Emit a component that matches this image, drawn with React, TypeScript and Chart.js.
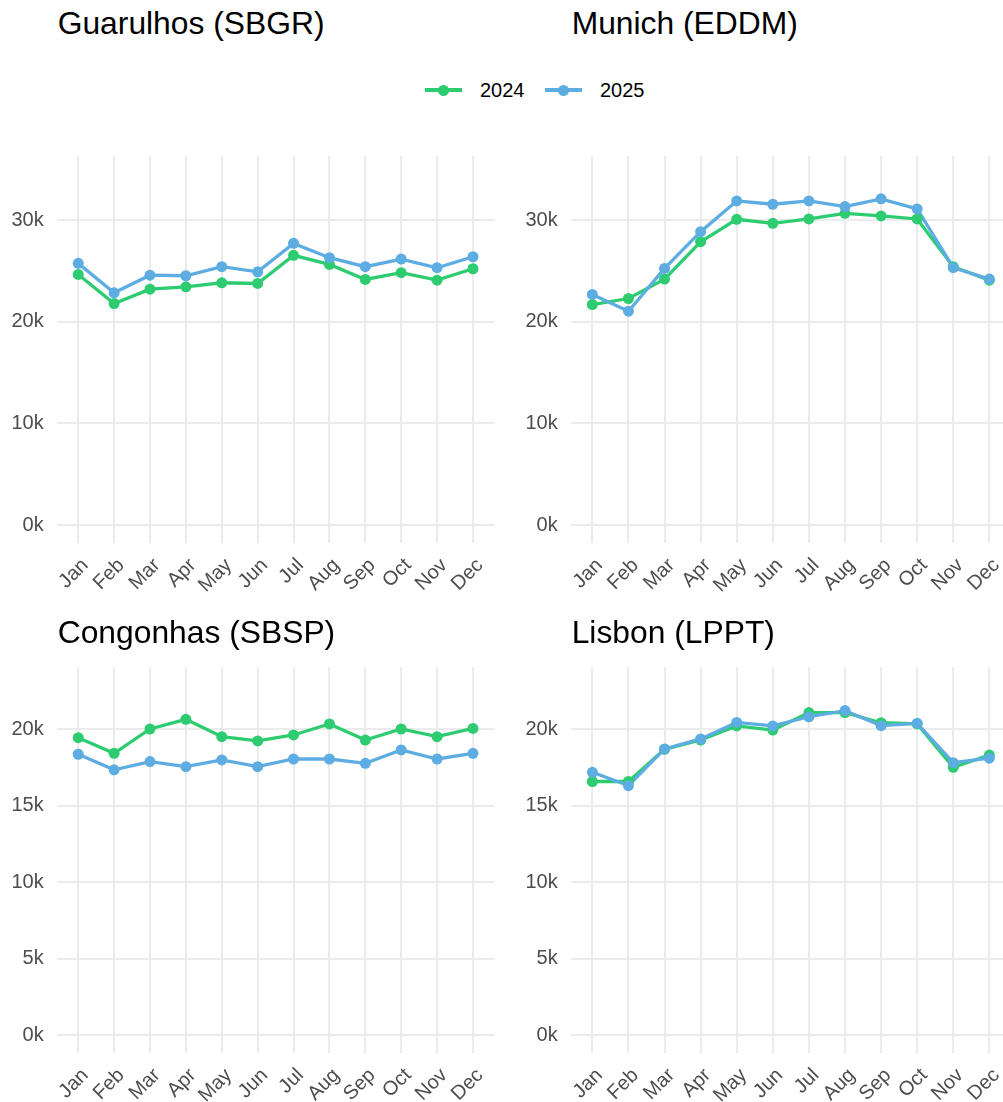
import React, { useEffect, useRef } from "react";
import { Chart, registerables } from "chart.js";

Chart.register(...registerables);

const months = ["Jan", "Feb", "Mar", "Apr", "May", "Jun", "Jul", "Aug", "Sep", "Oct", "Nov", "Dec"];
const seriesLabels = ["2024", "2025"];

const guarulhos2024 = [24670, 21810, 23220, 23450, 23850, 23780, 26550, 25660, 24180, 24840, 24110, 25230];
const guarulhos2025 = [25760, 22860, 24600, 24540, 25430, 24930, 27730, 26320, 25430, 26180, 25330, 26410];
const munich2024 = [21710, 22300, 24210, 27890, 30100, 29700, 30130, 30690, 30430, 30130, 25430, 24110];
const munich2025 = [22700, 21050, 25260, 28880, 31910, 31580, 31910, 31350, 32110, 31120, 25330, 24210];
const congonhas2024 = [19430, 18410, 20000, 20630, 19500, 19220, 19610, 20330, 19280, 20000, 19500, 20040];
const congonhas2025 = [18350, 17330, 17870, 17540, 17980, 17540, 18040, 18040, 17760, 18630, 18040, 18410];
const lisbon2024 = [16570, 16570, 18670, 19280, 20200, 19930, 21070, 21070, 20410, 20330, 17500, 18300];
const lisbon2025 = [17170, 16300, 18700, 19350, 20430, 20200, 20800, 21200, 20220, 20370, 17800, 18090];

const topTicks = [0, 10000, 20000, 30000];
const bottomTicks = [0, 5000, 10000, 15000, 20000];

const GREEN = "#2ECC71";
const BLUE = "#5DADE2";
const GRID = "#EBEBEB";
const AXIS_TEXT = "#4D4D4D";
const FONT = "'Liberation Sans', Arial, Helvetica, sans-serif";

type Box = { left: number; top: number; width: number; height: number };
type Area = { left: number; top: number; right: number; bottom: number };

type PanelProps = {
  title: string;
  d2024: number[];
  d2025: number[];
  ticks: number[];
  yMin: number;
  yMax: number;
  box: Box;
  area: Area;
  titleTop: number;
};

function Panel({ title, d2024, d2025, ticks, yMin, yMax, box, area, titleTop }: PanelProps) {
  const ref = useRef<HTMLCanvasElement | null>(null);

  useEffect(() => {
    if (!ref.current) return;
    const yW = area.left - box.left;
    const padTop = area.top - box.top;
    const padRight = box.left + box.width - area.right;
    const xH = box.top + box.height - area.bottom;
    const pts = (arr: number[]) => arr.map((y, i) => ({ x: i, y }));

    const chart = new Chart(ref.current, {
      type: "line",
      data: {
        datasets: [
          {
            label: seriesLabels[0],
            data: pts(d2024),
            borderColor: GREEN,
            backgroundColor: GREEN,
            borderWidth: 3.3,
            pointRadius: 0,
            tension: 0,
            fill: false,
            order: 3,
          },
          {
            label: seriesLabels[1],
            data: pts(d2025),
            borderColor: BLUE,
            backgroundColor: BLUE,
            borderWidth: 3.3,
            pointRadius: 0,
            tension: 0,
            fill: false,
            order: 2,
          },
          {
            label: seriesLabels[0] + " points",
            data: pts(d2024),
            showLine: false,
            pointRadius: 5.5,
            pointBorderWidth: 0,
            pointBackgroundColor: GREEN,
            borderColor: GREEN,
            order: 1,
          },
          {
            label: seriesLabels[1] + " points",
            data: pts(d2025),
            showLine: false,
            pointRadius: 5.5,
            pointBorderWidth: 0,
            pointBackgroundColor: BLUE,
            borderColor: BLUE,
            order: 0,
          },
        ],
      },
      options: {
        responsive: false,
        animation: false,
        devicePixelRatio: 1,
        layout: { padding: { top: padTop, right: padRight, left: 0, bottom: 0 } },
        plugins: {
          legend: { display: false },
          tooltip: { enabled: false },
          title: { display: false },
        },
        scales: {
          x: {
            type: "linear",
            min: -0.6,
            max: 11.6,
            afterBuildTicks: (s: any) => {
              s.ticks = months.map((_, i) => ({ value: i }));
            },
            afterFit: (s: any) => {
              s.height = xH;
              s.paddingLeft = 0;
              s.paddingRight = 0;
              s.paddingTop = 0;
              s.paddingBottom = 0;
            },
            grid: { color: GRID, lineWidth: 2, drawTicks: false },
            border: { display: false },
            ticks: {
              autoSkip: false,
              minRotation: 45,
              maxRotation: 45,
              padding: 11,
              labelOffset: 7,
              color: AXIS_TEXT,
              font: { family: FONT, size: 20 },
              callback: (_v: any, i: number) => months[i],
            },
          },
          y: {
            type: "linear",
            min: yMin,
            max: yMax,
            afterBuildTicks: (s: any) => {
              s.ticks = ticks.map((v) => ({ value: v }));
            },
            afterFit: (s: any) => {
              s.width = yW;
              s.paddingLeft = 0;
              s.paddingRight = 0;
              s.paddingTop = 0;
              s.paddingBottom = 0;
            },
            grid: { color: GRID, lineWidth: 2, drawTicks: false },
            border: { display: false },
            ticks: {
              padding: 13,
              color: AXIS_TEXT,
              font: { family: FONT, size: 20 },
              callback: (v: any) => `${Number(v) / 1000}k`,
            },
          },
        },
      },
    });
    return () => chart.destroy();
  }, []);

  return (
    <>
      <div
        style={{
          position: "absolute",
          left: area.left + 1,
          top: titleTop,
          fontFamily: FONT,
          fontSize: 31.8,
          lineHeight: "31.8px",
          color: "#000",
          whiteSpace: "nowrap",
        }}
      >
        {title}
      </div>
      <canvas
        ref={ref}
        width={box.width}
        height={box.height}
        style={{ position: "absolute", left: box.left, top: box.top, width: box.width, height: box.height }}
      />
    </>
  );
}

function LegendItem({ color, label, lineLeft, textLeft }: { color: string; label: string; lineLeft: number; textLeft: number }) {
  return (
    <>
      <div style={{ position: "absolute", left: lineLeft, top: 88.3, width: 37, height: 3.4, background: color }} />
      <div
        style={{
          position: "absolute",
          left: lineLeft + 18.5 - 5.5,
          top: 90 - 5.5,
          width: 11,
          height: 11,
          borderRadius: "50%",
          background: color,
        }}
      />
      <div
        style={{
          position: "absolute",
          left: textLeft,
          top: 80.2,
          fontFamily: FONT,
          fontSize: 20,
          lineHeight: "20px",
          color: "#000",
        }}
      >
        {label}
      </div>
    </>
  );
}

export default function App() {
  const topYMin = -1740;
  const topYMax = 36330;
  const botYMin = -1145;
  const botYMax = 24030;
  return (
    <div
      style={{
        position: "fixed",
        left: 0,
        top: 0,
        width: 1003,
        height: 1102,
        overflow: "hidden",
        background: "#fff",
      }}
    >
      <LegendItem color={GREEN} label={seriesLabels[0]} lineLeft={425} textLeft={480} />
      <LegendItem color={BLUE} label={seriesLabels[1]} lineLeft={545} textLeft={600} />
      <Panel
        title="Guarulhos (SBGR)"
        d2024={guarulhos2024}
        d2025={guarulhos2025}
        ticks={topTicks}
        yMin={topYMin}
        yMax={topYMax}
        box={{ left: 0, top: 140, width: 500, height: 480 }}
        area={{ left: 56.7, top: 156, right: 496.6, bottom: 542.7 }}
        titleTop={8.1}
      />
      <Panel
        title="Munich (EDDM)"
        d2024={munich2024}
        d2025={munich2025}
        ticks={topTicks}
        yMin={topYMin}
        yMax={topYMax}
        box={{ left: 500, top: 140, width: 530, height: 480 }}
        area={{ left: 570.7, top: 156, right: 1011, bottom: 542.7 }}
        titleTop={8.1}
      />
      <Panel
        title="Congonhas (SBSP)"
        d2024={congonhas2024}
        d2025={congonhas2025}
        ticks={bottomTicks}
        yMin={botYMin}
        yMax={botYMax}
        box={{ left: 0, top: 650, width: 500, height: 452 }}
        area={{ left: 56.7, top: 667.3, right: 496.6, bottom: 1052.7 }}
        titleTop={617.1}
      />
      <Panel
        title="Lisbon (LPPT)"
        d2024={lisbon2024}
        d2025={lisbon2025}
        ticks={bottomTicks}
        yMin={botYMin}
        yMax={botYMax}
        box={{ left: 500, top: 650, width: 530, height: 452 }}
        area={{ left: 570.7, top: 667.3, right: 1011, bottom: 1052.7 }}
        titleTop={617.1}
      />
    </div>
  );
}
